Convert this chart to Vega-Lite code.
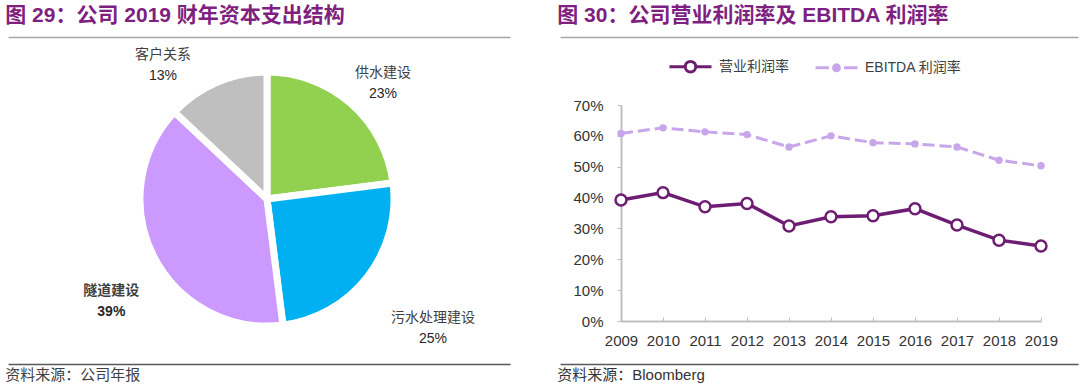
{
  "$schema": "https://vega.github.io/schema/vega-lite/v6.json",
  "padding": {"left": 5, "right": 5, "top": 4, "bottom": 2},
  "config": {
    "view": {"stroke": null},
    "font": "'Liberation Sans', 'Noto Sans CJK SC'",
    "axis": {"labelFont": "'Liberation Sans', 'Noto Sans CJK SC'"},
    "legend": {"labelFont": "'Liberation Sans', 'Noto Sans CJK SC'"}
  },
  "datasets": {
    "dummy": [{"v": 0}, {"v": 1}],
    "capex": [
      {"cat": "供水建设", "pct": 0.23},
      {"cat": "污水处理建设", "pct": 0.25},
      {"cat": "隧道建设", "pct": 0.39},
      {"cat": "客户关系", "pct": 0.13}
    ],
    "margins": [
      {"year": "2009", "series": "营业利润率", "value": 0.392},
      {"year": "2010", "series": "营业利润率", "value": 0.416},
      {"year": "2011", "series": "营业利润率", "value": 0.370},
      {"year": "2012", "series": "营业利润率", "value": 0.381},
      {"year": "2013", "series": "营业利润率", "value": 0.308},
      {"year": "2014", "series": "营业利润率", "value": 0.338},
      {"year": "2015", "series": "营业利润率", "value": 0.341},
      {"year": "2016", "series": "营业利润率", "value": 0.364},
      {"year": "2017", "series": "营业利润率", "value": 0.311},
      {"year": "2018", "series": "营业利润率", "value": 0.262},
      {"year": "2019", "series": "营业利润率", "value": 0.243},
      {"year": "2009", "series": "EBITDA 利润率", "value": 0.608},
      {"year": "2010", "series": "EBITDA 利润率", "value": 0.626},
      {"year": "2011", "series": "EBITDA 利润率", "value": 0.613},
      {"year": "2012", "series": "EBITDA 利润率", "value": 0.604},
      {"year": "2013", "series": "EBITDA 利润率", "value": 0.564},
      {"year": "2014", "series": "EBITDA 利润率", "value": 0.600},
      {"year": "2015", "series": "EBITDA 利润率", "value": 0.578},
      {"year": "2016", "series": "EBITDA 利润率", "value": 0.574},
      {"year": "2017", "series": "EBITDA 利润率", "value": 0.564},
      {"year": "2018", "series": "EBITDA 利润率", "value": 0.521},
      {"year": "2019", "series": "EBITDA 利润率", "value": 0.503}
    ]
  },
  "spacing": 4,
  "resolve": {"scale": {"color": "independent"}, "legend": {"color": "independent"}},
  "vconcat": [
    {
      "bounds": "flush",
      "spacing": 50,
      "hconcat": [
        {
          "width": 502, "height": 1,
          "data": {"name": "dummy"},
          "title": {"text": "图 29：公司 2019 财年资本支出结构", "anchor": "start", "fontSize": 21, "fontWeight": "bold", "color": "#7F1F80", "offset": 8},
          "mark": {"type": "point", "opacity": 0},
          "encoding": {
            "x": {"field": "v", "type": "quantitative", "scale": {"domain": [0, 1], "nice": false},
              "axis": {"orient": "bottom", "labels": false, "ticks": false, "title": null, "grid": false, "domainColor": "#A6A6A6", "domainWidth": 1.5}}
          }
        },
        {
          "width": 518, "height": 1,
          "data": {"name": "dummy"},
          "title": {"text": "图 30：公司营业利润率及 EBITDA  利润率", "anchor": "start", "fontSize": 21, "fontWeight": "bold", "color": "#7F1F80", "offset": 8},
          "mark": {"type": "point", "opacity": 0},
          "encoding": {
            "x": {"field": "v", "type": "quantitative", "scale": {"domain": [0, 1], "nice": false},
              "axis": {"orient": "bottom", "labels": false, "ticks": false, "title": null, "grid": false, "domainColor": "#A6A6A6", "domainWidth": 1.5}}
          }
        }
      ]
    },
    {
      "spacing": 13,
      "resolve": {"scale": {"color": "independent"}, "legend": {"color": "independent"}},
      "vconcat": [
        {
          "bounds": "flush",
          "spacing": 95,
          "resolve": {"scale": {"color": "independent"}, "legend": {"color": "independent"}},
          "hconcat": [
            {
              "width": 518, "height": 188,
              "data": {"name": "capex"},
              "transform": [{"window": [{"op": "row_number", "as": "ord"}]}],
              "encoding": {
                "theta": {"field": "pct", "type": "quantitative", "stack": true},
                "order": {"field": "ord", "type": "quantitative"}
              },
              "layer": [
                {
                  "mark": {"type": "arc", "outerRadius": 127, "stroke": "white", "strokeWidth": 7, "strokeJoin": "round"},
                  "encoding": {
                    "color": {"field": "cat", "type": "nominal",
                      "scale": {"domain": ["供水建设", "污水处理建设", "隧道建设", "客户关系"], "range": ["#92D050", "#00B0F0", "#CC99FF", "#BFBFBF"]},
                      "legend": null}
                  }
                },
                {
                  "mark": {"type": "text", "fontSize": 14, "dy": -10,
                    "radius": {"expr": "datum.cat === '客户关系' ? 170 : datum.cat === '污水处理建设' ? 210 : datum.cat === '隧道建设' ? 186 : 164"},
                    "thetaOffset": {"expr": "datum.cat === '客户关系' ? -0.25 : datum.cat === '隧道建设' ? -0.108 : datum.cat === '供水建设' ? 0.063 : 0"},
                    "fontWeight": {"expr": "datum.cat === '隧道建设' ? 'bold' : 'normal'"}},
                  "encoding": {"text": {"field": "cat"}, "color": {"value": "#404040"}}
                },
                {
                  "mark": {"type": "text", "fontSize": 14, "dy": 11,
                    "radius": {"expr": "datum.cat === '客户关系' ? 170 : datum.cat === '污水处理建设' ? 210 : datum.cat === '隧道建设' ? 186 : 164"},
                    "thetaOffset": {"expr": "datum.cat === '客户关系' ? -0.25 : datum.cat === '隧道建设' ? -0.108 : datum.cat === '供水建设' ? 0.063 : 0"},
                    "fontWeight": {"expr": "datum.cat === '隧道建设' ? 'bold' : 'normal'"}},
                  "encoding": {"text": {"field": "pct", "format": ".0%"}, "color": {"value": "#262626"}}
                }
              ]
            },
            {
              "width": 420, "height": 216,
              "data": {"name": "margins"},
              "encoding": {
                "x": {"field": "year", "type": "ordinal", "scale": {"type": "point", "padding": 0},
                  "axis": {"labelAngle": 0, "title": null, "domainColor": "#BFBFBF", "domainWidth": 2, "tickColor": "#BFBFBF", "tickSize": -4, "labelPadding": 16, "labelFontSize": 15, "labelColor": "#333333"}},
                "y": {"field": "value", "type": "quantitative", "scale": {"domain": [0, 0.7], "nice": false},
                  "axis": {"values": [0, 0.1, 0.2, 0.3, 0.4, 0.5, 0.6, 0.7], "format": ".0%", "title": null, "grid": false, "domainColor": "#BFBFBF", "domainWidth": 2, "tickColor": "#BFBFBF", "tickSize": 4, "labelPadding": 14, "labelFontSize": 15, "labelColor": "#333333"}}
              },
              "layer": [
                {
                  "transform": [{"filter": "datum.series === 'EBITDA 利润率'"}],
                  "mark": {"type": "line", "strokeWidth": 3, "strokeDash": [12, 5]},
                  "encoding": {
                    "color": {"field": "series", "type": "nominal",
                      "scale": {"domain": ["营业利润率", "EBITDA 利润率"], "range": ["#6E1E72", "#C8A6EA"]},
                      "legend": {"title": null, "orient": "none", "legendX": 47, "legendY": -61, "direction": "horizontal",
                        "symbolSize": 1764, "symbolStrokeWidth": 3, "symbolType": "M-1,0H-0.25M0.25,0A0.25,0.25,0,1,1,-0.25,0A0.25,0.25,0,1,1,0.25,0M0.25,0H1",
                        "labelFontSize": 14, "labelColor": "#404040", "labelOffset": 6, "columnPadding": 20,
                        "encode": {"symbols": {"update": {
                          "shape": {"signal": "datum.value === '营业利润率' ? 'M-1,0H-0.25M0.25,0A0.25,0.25,0,1,1,-0.25,0A0.25,0.25,0,1,1,0.25,0M0.25,0H1' : 'M-1,0H-0.36M0.36,0H1M0.14,0A0.14,0.14,0,1,1,-0.14,0A0.14,0.14,0,1,1,0.14,0'"},
                          "fill": {"signal": "datum.value === '营业利润率' ? 'white' : '#C8A6EA'"}
                        }}}}}
                  }
                },
                {
                  "transform": [{"filter": "datum.series === 'EBITDA 利润率'"}],
                  "mark": {"type": "point", "filled": true, "fill": "#C8A6EA", "size": 55, "opacity": 1}
                },
                {
                  "transform": [{"filter": "datum.series === '营业利润率'"}],
                  "mark": {"type": "line", "strokeWidth": 3.5},
                  "encoding": {
                    "color": {"field": "series", "type": "nominal",
                      "scale": {"domain": ["营业利润率", "EBITDA 利润率"], "range": ["#6E1E72", "#C8A6EA"]},
                      "legend": {"title": null, "orient": "none", "legendX": 47, "legendY": -61, "direction": "horizontal",
                        "symbolSize": 1764, "symbolStrokeWidth": 3, "symbolType": "M-1,0H-0.25M0.25,0A0.25,0.25,0,1,1,-0.25,0A0.25,0.25,0,1,1,0.25,0M0.25,0H1",
                        "labelFontSize": 14, "labelColor": "#404040", "labelOffset": 6, "columnPadding": 20,
                        "encode": {"symbols": {"update": {
                          "shape": {"signal": "datum.value === '营业利润率' ? 'M-1,0H-0.25M0.25,0A0.25,0.25,0,1,1,-0.25,0A0.25,0.25,0,1,1,0.25,0M0.25,0H1' : 'M-1,0H-0.36M0.36,0H1M0.14,0A0.14,0.14,0,1,1,-0.14,0A0.14,0.14,0,1,1,0.14,0'"},
                          "fill": {"signal": "datum.value === '营业利润率' ? 'white' : '#C8A6EA'"}
                        }}}}}
                  }
                },
                {
                  "transform": [{"filter": "datum.series === '营业利润率'"}],
                  "mark": {"type": "point", "filled": true, "fill": "white", "stroke": "#6E1E72", "strokeWidth": 2.5, "size": 120, "opacity": 1}
                }
              ]
            }
          ]
        },
        {
          "bounds": "flush",
          "spacing": 50,
          "hconcat": [
            {
              "width": 502, "height": 1,
              "data": {"name": "dummy"},
              "title": {"text": "资料来源：公司年报", "orient": "bottom", "anchor": "start", "fontSize": 15, "fontWeight": "normal", "color": "#404040", "offset": 1},
              "mark": {"type": "point", "opacity": 0},
              "encoding": {
                "x": {"field": "v", "type": "quantitative", "scale": {"domain": [0, 1], "nice": false},
                  "axis": {"orient": "top", "labels": false, "ticks": false, "title": null, "grid": false, "domainColor": "#595959", "domainWidth": 1.5}}
              }
            },
            {
              "width": 518, "height": 1,
              "data": {"name": "dummy"},
              "title": {"text": "资料来源：Bloomberg", "orient": "bottom", "anchor": "start", "fontSize": 15, "fontWeight": "normal", "color": "#333333", "offset": 1},
              "mark": {"type": "point", "opacity": 0},
              "encoding": {
                "x": {"field": "v", "type": "quantitative", "scale": {"domain": [0, 1], "nice": false},
                  "axis": {"orient": "top", "labels": false, "ticks": false, "title": null, "grid": false, "domainColor": "#595959", "domainWidth": 1.5}}
              }
            }
          ]
        }
      ]
    }
  ]
}
